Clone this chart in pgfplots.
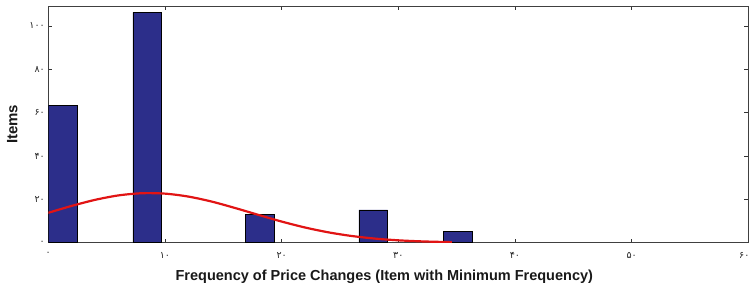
\documentclass[border=0pt]{standalone}
\usepackage{pgfplots}
\pgfplotsset{compat=1.18}
\usepackage{fontspec}
\setmainfont{Liberation Sans}
\newfontfamily\persian{DejaVu Sans}
\definecolor{barblue}{RGB}{44,46,138}
\definecolor{curvered}{RGB}{225,20,20}
\begin{document}
\begin{tikzpicture}
\path[use as bounding box] (-48.3pt,-50.3pt) rectangle (702.7pt,242.7pt);
\begin{axis}[
  at={(0,0)}, anchor=south west,
  scale only axis,
  width=700pt, height=236.7pt,
  xmin=0, xmax=60, ymin=0, ymax=109.2,
  xtick={0,10,20,30,40,50,60},
  xticklabels={۰,۱۰,۲۰,۳۰,۴۰,۵۰,\makebox[0pt]{\hspace*{-8pt}۶۰}},
  ytick={0,20,40,60,80,100},
  yticklabels={۰,۲۰,۴۰,۶۰,۸۰,۱۰۰},
  tick label style={font=\persian\fontsize{9.5}{10}\selectfont, text=black!85},
  xticklabel style={yshift=-6pt},
  major tick length=4pt,
  tick style={black!80, line width=0.6pt},
  axis line style={black!75, line width=0.7pt},
  xlabel={Frequency of Price Changes (Item with Minimum Frequency)},
  ylabel={Items},
  xlabel style={font=\bfseries\fontsize{14.5}{15}\selectfont, text=black!90, yshift=-5pt, xshift=-14pt},
  ylabel style={font=\bfseries\fontsize{15}{16}\selectfont, text=black!90, yshift=5pt},
  clip=true,
]
\addplot[ybar, bar width=2.45, fill=barblue, draw=black, line width=0.6pt, bar shift=0pt]
  coordinates {(1.22,63.5) (8.47,106.3) (18.15,13.1) (27.85,15.1) (35.09,5.1)};
\addplot[curvered, line width=2.2pt, smooth, no marks] coordinates {
(0,13.8) (2,16.97) (4,19.76) (6,21.81) (8,22.82) (10,22.64) (12,21.29)
(14,18.98) (16,16.03) (18,12.85) (20,9.76) (22,7.02) (24,4.79) (26,3.10)
(28,1.90) (30,1.10) (32,0.61) (34,0.32) (34.6,0.26)};
\end{axis}
\end{tikzpicture}
\end{document}
